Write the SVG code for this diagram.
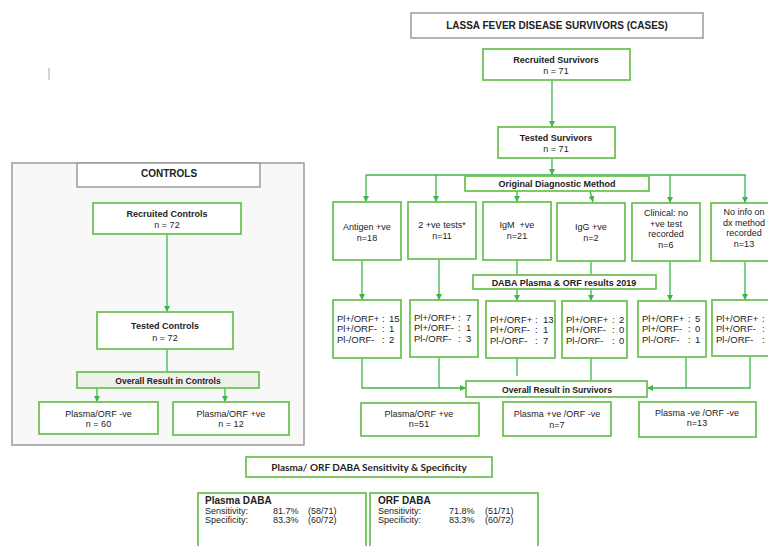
<svg xmlns="http://www.w3.org/2000/svg" width="768" height="546" viewBox="0 0 768 546">
<style>
text{font-family:"Liberation Sans",Arial,sans-serif;fill:#222;}
.b{font-weight:bold;}
.c{text-anchor:middle;}
.box{fill:#fff;stroke:#72c257;stroke-width:1.8;}
.gbox{fill:#fff;stroke:#9a9a9a;stroke-width:1.5;}
.con{fill:none;stroke:#3db54a;stroke-width:1.3;}
.t9{font-size:9px;}
.t10{font-size:10px;}
.pl{font-size:9.5px;}
.s{font-size:9px;}
</style>
<defs>
<marker id="ah" viewBox="0 0 10 10" refX="10" refY="5" markerWidth="6" markerHeight="6" markerUnits="userSpaceOnUse" orient="auto">
<path d="M0,0 L10,5 L0,10 z" fill="#3db54a"/>
</marker>
</defs>
<rect width="768" height="546" fill="#fff"/>
<line x1="49" y1="68" x2="49" y2="80" stroke="#aaa" stroke-width="1"/>

<g id="controls-panel">
<rect x="12" y="163" width="292" height="282" fill="#f8f8f8" stroke="#9a9a9a" stroke-width="1.5"/>
</g>

<g id="connectors">
<line class="con" x1="552" y1="80" x2="552" y2="127" marker-end="url(#ah)"/>
<line class="con" x1="552" y1="158" x2="552" y2="175" marker-end="url(#ah)"/>
<line class="con" x1="366" y1="175" x2="746" y2="175"/>
<line class="con" x1="366" y1="175" x2="366" y2="202" marker-end="url(#ah)"/>
<line class="con" x1="436" y1="175" x2="436" y2="202" marker-end="url(#ah)"/>
<line class="con" x1="670" y1="175" x2="670" y2="203" marker-end="url(#ah)"/>
<line class="con" x1="745" y1="175" x2="745" y2="203" marker-end="url(#ah)"/>
<line class="con" x1="517" y1="191" x2="517" y2="202" marker-end="url(#ah)"/>
<line class="con" x1="590" y1="191" x2="593" y2="202" marker-end="url(#ah)"/>
<line class="con" x1="362" y1="260" x2="362" y2="300" marker-end="url(#ah)"/>
<line class="con" x1="439" y1="259" x2="439" y2="300" marker-end="url(#ah)"/>
<line class="con" x1="517" y1="260" x2="517" y2="275"/>
<line class="con" x1="517" y1="289" x2="517" y2="301" marker-end="url(#ah)"/>
<line class="con" x1="591" y1="261" x2="591" y2="275"/>
<line class="con" x1="591" y1="289" x2="591" y2="301" marker-end="url(#ah)"/>
<line class="con" x1="670" y1="261" x2="670" y2="301" marker-end="url(#ah)"/>
<line class="con" x1="745" y1="261" x2="745" y2="300" marker-end="url(#ah)"/>
<polyline class="con" points="362,358 362,388 466,388" marker-end="url(#ah)"/>
<line class="con" x1="439" y1="357" x2="439" y2="388"/>
<line class="con" x1="517" y1="358" x2="517" y2="376"/>
<line class="con" x1="591" y1="358" x2="591" y2="381"/>
<line class="con" x1="686" y1="357" x2="686" y2="388"/>
<polyline class="con" points="750,356 750,388 647,388" marker-end="url(#ah)"/>
<line class="con" x1="167" y1="234" x2="167" y2="312" marker-end="url(#ah)"/>
<line class="con" x1="167" y1="349" x2="167" y2="372"/>
<line class="con" x1="97" y1="388" x2="97" y2="402" marker-end="url(#ah)"/>
<line class="con" x1="225" y1="388" x2="225" y2="402" marker-end="url(#ah)"/>
</g>

<g id="title">
<rect class="gbox" x="411" y="13" width="292" height="25"/>
<text class="b t10 c" x="557" y="29">LASSA FEVER DISEASE SURVIVORS (CASES)</text>
</g>
<g id="recruited-survivors">
<rect class="box" x="483" y="49" width="147" height="31" stroke-width="2"/>
<text class="b t9 c" x="556" y="63">Recruited Survivors</text>
<text class="t9 c" x="556" y="74">n = 71</text>
</g>
<g id="tested-survivors">
<rect class="box" x="498" y="127" width="117" height="31" stroke-width="2"/>
<text class="b t9 c" x="556" y="141">Tested Survivors</text>
<text class="t9 c" x="556" y="152">n = 71</text>
</g>
<g id="original-method">
<rect class="box" x="465" y="176" width="184" height="15" stroke-width="2"/>
<text class="b t9 c" x="557" y="187">Original Diagnostic Method</text>
</g>

<g id="antigen">
<rect class="box" x="333" y="202" width="68" height="58"/>
<text class="t9 c" x="367" y="230">Antigen +ve</text>
<text class="t9 c" x="367" y="241">n=18</text>
</g>
<g id="two-tests">
<rect class="box" x="408" y="202" width="68" height="57"/>
<text class="t9 c" x="442" y="228">2 +ve tests*</text>
<text class="t9 c" x="442" y="239">n=11</text>
</g>
<g id="igm">
<rect class="box" x="483" y="202" width="68" height="58"/>
<text class="t9 c" x="517" y="228" xml:space="preserve">IgM  +ve</text>
<text class="t9 c" x="517" y="239">n=21</text>
</g>
<g id="igg">
<rect class="box" x="557" y="203" width="68" height="58"/>
<text class="t9 c" x="591" y="230">IgG +ve</text>
<text class="t9 c" x="591" y="241">n=2</text>
</g>
<g id="clinical">
<rect class="box" x="632" y="203" width="68" height="58"/>
<text class="t9 c" x="666" y="216">Clinical: no</text>
<text class="t9 c" x="666" y="226.5">+ve test</text>
<text class="t9 c" x="666" y="237">recorded</text>
<text class="t9 c" x="666" y="247.5">n=6</text>
</g>
<g id="no-info">
<rect class="box" x="711" y="203" width="68" height="58"/>
<text class="t9 c" x="744" y="215">No info on</text>
<text class="t9 c" x="744" y="225.5">dx method</text>
<text class="t9 c" x="744" y="236">recorded</text>
<text class="t9 c" x="744" y="246.5">n=13</text>
</g>

<g id="daba-results">
<rect class="box" x="473" y="275" width="183" height="14" stroke-width="2"/>
<text class="b t9 c" x="564" y="285.5">DABA Plasma &amp; ORF results 2019</text>
</g>

<g id="res-antigen">
<rect class="box" x="333" y="300" width="68" height="58"/>
<text class="pl"><tspan x="337" y="321.5">Pl+/ORF+</tspan><tspan x="382" y="321.5">:</tspan><tspan x="389" y="321.5">15</tspan></text>
<text class="pl"><tspan x="337" y="332">Pl+/ORF-</tspan><tspan x="382" y="332">:</tspan><tspan x="389" y="332">1</tspan></text>
<text class="pl"><tspan x="337" y="342.5">Pl-/ORF-</tspan><tspan x="382" y="342.5">:</tspan><tspan x="389" y="342.5">2</tspan></text>
</g>
<g id="res-two-tests">
<rect class="box" x="410" y="300" width="68" height="57"/>
<text class="pl"><tspan x="414" y="320.5">Pl+/ORF+</tspan><tspan x="458" y="320.5">:</tspan><tspan x="466" y="320.5">7</tspan></text>
<text class="pl"><tspan x="414" y="331">Pl+/ORF-</tspan><tspan x="458" y="331">:</tspan><tspan x="466" y="331">1</tspan></text>
<text class="pl"><tspan x="414" y="341.5">Pl-/ORF-</tspan><tspan x="458" y="341.5">:</tspan><tspan x="466" y="341.5">3</tspan></text>
</g>
<g id="res-igm">
<rect class="box" x="486" y="301" width="69" height="57"/>
<text class="pl"><tspan x="490" y="322.5">Pl+/ORF+</tspan><tspan x="535" y="322.5">:</tspan><tspan x="543" y="322.5">13</tspan></text>
<text class="pl"><tspan x="490" y="333">Pl+/ORF-</tspan><tspan x="535" y="333">:</tspan><tspan x="543" y="333">1</tspan></text>
<text class="pl"><tspan x="490" y="343.5">Pl-/ORF-</tspan><tspan x="535" y="343.5">:</tspan><tspan x="543" y="343.5">7</tspan></text>
</g>
<g id="res-igg">
<rect class="box" x="562" y="301" width="65" height="57"/>
<text class="pl"><tspan x="566" y="323">Pl+/ORF+</tspan><tspan x="612" y="323">:</tspan><tspan x="619" y="323">2</tspan></text>
<text class="pl"><tspan x="566" y="333">Pl+/ORF-</tspan><tspan x="612" y="333">:</tspan><tspan x="619" y="333">0</tspan></text>
<text class="pl"><tspan x="566" y="343.5">Pl-/ORF-</tspan><tspan x="612" y="343.5">:</tspan><tspan x="619" y="343.5">0</tspan></text>
</g>
<g id="res-clinical">
<rect class="box" x="638" y="301" width="68" height="56"/>
<text class="pl"><tspan x="642" y="321.5">Pl+/ORF+</tspan><tspan x="688" y="321.5">:</tspan><tspan x="695" y="321.5">5</tspan></text>
<text class="pl"><tspan x="642" y="332">Pl+/ORF-</tspan><tspan x="688" y="332">:</tspan><tspan x="695" y="332">0</tspan></text>
<text class="pl"><tspan x="642" y="343">Pl-/ORF-</tspan><tspan x="688" y="343">:</tspan><tspan x="695" y="343">1</tspan></text>
</g>
<g id="res-no-info">
<rect class="box" x="712" y="300" width="68" height="56"/>
<text class="pl"><tspan x="716" y="321.5">Pl+/ORF+</tspan><tspan x="762" y="321.5">:</tspan></text>
<text class="pl"><tspan x="716" y="332">Pl+/ORF-</tspan><tspan x="762" y="332">:</tspan></text>
<text class="pl"><tspan x="716" y="342.5">Pl-/ORF-</tspan><tspan x="762" y="342.5">:</tspan></text>
</g>

<g id="overall-survivors">
<rect class="box" x="466" y="381" width="181" height="16" stroke-width="2"/>
<text class="b c" style="font-size:8.6px" x="557" y="392.5">Overall Result in Survivors</text>
</g>
<g id="surv-pos">
<rect class="box" x="361" y="403" width="118" height="33"/>
<text class="t9 c" x="419" y="416.5">Plasma/ORF +ve</text>
<text class="t9 c" x="419" y="427">n=51</text>
</g>
<g id="surv-plpos-orfneg">
<rect class="box" x="503" y="402" width="108" height="34"/>
<text class="t9 c" x="557" y="417">Plasma +ve /ORF -ve</text>
<text class="t9 c" x="557" y="427.5">n=7</text>
</g>
<g id="surv-neg">
<rect class="box" x="639" y="402" width="117" height="35"/>
<text class="t9 c" x="697" y="416">Plasma -ve /ORF -ve</text>
<text class="t9 c" x="697" y="426">n=13</text>
</g>

<g id="controls-title">
<rect class="gbox" x="77" y="163" width="183" height="24"/>
<text class="b t10 c" x="169" y="176.5">CONTROLS</text>
</g>
<g id="recruited-controls">
<rect class="box" x="93" y="203" width="148" height="31"/>
<text class="b t9 c" x="167" y="216.5">Recruited Controls</text>
<text class="t9 c" x="167" y="227.5">n = 72</text>
</g>
<g id="tested-controls">
<rect class="box" x="97" y="312" width="136" height="37" stroke-width="2.5"/>
<text class="b t9 c" x="165" y="328.5">Tested Controls</text>
<text class="t9 c" x="165" y="340.5">n = 72</text>
</g>
<g id="overall-controls">
<rect class="box" x="77" y="372" width="182" height="16" stroke-width="2" style="fill:#eef0ec"/>
<text class="b c" style="font-size:8.6px" x="168" y="383.5">Overall Result in Controls</text>
</g>
<g id="ctrl-neg">
<rect class="box" x="39" y="402" width="119" height="32"/>
<text class="t9 c" x="98.5" y="416.5">Plasma/ORF -ve</text>
<text class="t9 c" x="98.5" y="427">n = 60</text>
</g>
<g id="ctrl-pos">
<rect class="box" x="173" y="402" width="116" height="33"/>
<text class="t9 c" x="231" y="416.5">Plasma/ORF +ve</text>
<text class="t9 c" x="231" y="427">n = 12</text>
</g>

<g id="sens-title">
<rect class="box" x="246" y="457" width="246" height="20"/>
<text class="b c" style="font-family:Lato,'Open Sans',sans-serif;font-size:10px" x="369" y="470.5">Plasma/ ORF DABA Sensitivity &amp; Specificity</text>
</g>
<g id="plasma-daba">
<rect class="box" x="198" y="493" width="168" height="62"/>
<text class="b t10" x="205" y="504">Plasma DABA</text>
<text class="s" x="205" y="513.5">Sensitivity:</text>
<text class="s" x="273" y="513.5">81.7%</text>
<text class="s" x="308" y="513.5">(58/71)</text>
<text class="s" x="205" y="523">Specificity:</text>
<text class="s" x="273" y="523">83.3%</text>
<text class="s" x="308" y="523">(60/72)</text>
</g>
<g id="orf-daba">
<rect class="box" x="370" y="493" width="168" height="62"/>
<text class="b t10" x="378" y="504">ORF DABA</text>
<text class="s" x="378" y="513.5">Sensitivity:</text>
<text class="s" x="449" y="513.5">71.8%</text>
<text class="s" x="485" y="513.5">(51/71)</text>
<text class="s" x="378" y="523">Specificity:</text>
<text class="s" x="449" y="523">83.3%</text>
<text class="s" x="485" y="523">(60/72)</text>
</g>
</svg>
